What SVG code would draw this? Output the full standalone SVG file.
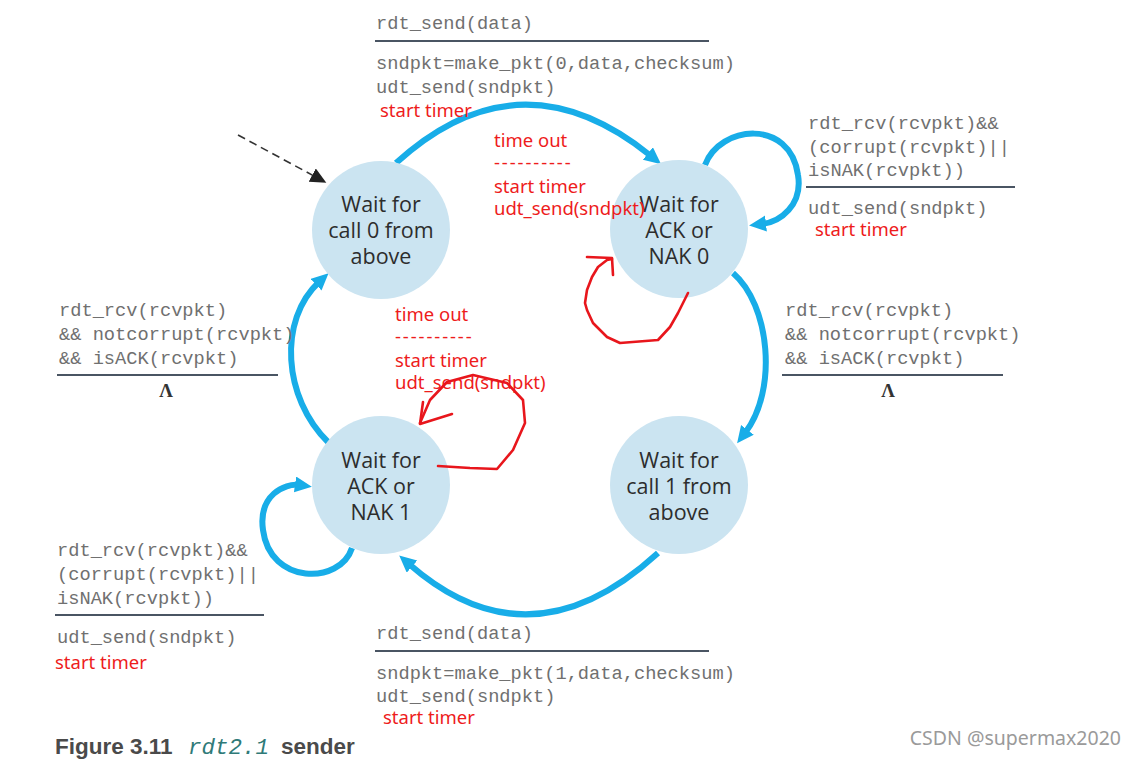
<svg xmlns="http://www.w3.org/2000/svg" width="1136" height="760" viewBox="0 0 1136 760">
<style>
.node{fill:#cbe4f1}
.ntxt{font-family:"Open Sans","Noto Sans",sans-serif;font-size:21.5px;fill:#2d2d2d;text-anchor:middle}
.mono{font-family:"Liberation Mono",monospace;font-size:18.7px;fill:#707070}
.red{font-family:"Noto Sans","Open Sans",sans-serif;font-size:18.5px;fill:#ee1c1c}
.dash{letter-spacing:1.9px}
.lam{font-family:"Liberation Serif",serif;font-size:19px;font-weight:bold;fill:#333;text-anchor:middle}
.rule{stroke:#4a5563;stroke-width:2}
.edge{fill:none;stroke:#18ade8;stroke-width:6}
.hand{fill:none;stroke:#e8161c;stroke-width:2.6;stroke-linejoin:round;stroke-linecap:round}
</style>
<defs>
<marker id="blue" markerUnits="userSpaceOnUse" markerWidth="20" markerHeight="18" refX="4" refY="8" orient="auto" viewBox="0 0 20 18">
<path d="M0,0 L17,8 L0,16 z" fill="#18ade8"/>
</marker>
<marker id="black" markerUnits="userSpaceOnUse" markerWidth="18" markerHeight="16" refX="2" refY="7.5" orient="auto" viewBox="0 0 18 16">
<path d="M0,0 L16,7.5 L0,15 z" fill="#222"/>
</marker>
</defs>
<rect width="1136" height="760" fill="#fff"/>

<g id="connectors">
<path class="edge" d="M396,163 Q520,50 651,156" marker-end="url(#blue)"/>
<path class="edge" d="M705,165 C720,125 790,118 798,175 C803,205 780,222 762,224" marker-end="url(#blue)"/>
<path class="edge" d="M733,273 C770,305 778,390 745,433" marker-end="url(#blue)"/>
<path class="edge" d="M658,553 Q530,670 409,564" marker-end="url(#blue)"/>
<path class="edge" d="M328,442 C283,398 278,320 319,282" marker-end="url(#blue)"/>
<path class="edge" d="M352,548 C340,585 270,585 263,530 C258,495 285,483 299,485" marker-end="url(#blue)"/>
<path d="M238,135 L314,176" fill="none" stroke="#333" stroke-width="1.6" stroke-dasharray="8,5" marker-end="url(#black)"/>
</g>

<g id="node-wait-call0">
<circle class="node" cx="381" cy="230" r="69"/>
<text class="ntxt" x="381" y="212">Wait for</text>
<text class="ntxt" x="381" y="238">call 0 from</text>
<text class="ntxt" x="381" y="264">above</text>
</g>
<g id="node-wait-ack0">
<circle class="node" cx="679" cy="229" r="69"/>
<text class="ntxt" x="679" y="212">Wait for</text>
<text class="ntxt" x="679" y="238">ACK or</text>
<text class="ntxt" x="679" y="264">NAK 0</text>
</g>
<g id="node-wait-ack1">
<circle class="node" cx="381" cy="485" r="69"/>
<text class="ntxt" x="381" y="468">Wait for</text>
<text class="ntxt" x="381" y="494">ACK or</text>
<text class="ntxt" x="381" y="520">NAK 1</text>
</g>
<g id="node-wait-call1">
<circle class="node" cx="679" cy="485" r="69"/>
<text class="ntxt" x="679" y="468">Wait for</text>
<text class="ntxt" x="679" y="494">call 1 from</text>
<text class="ntxt" x="679" y="520">above</text>
</g>

<g id="label-top">
<text class="mono" x="376" y="29">rdt_send(data)</text>
<line class="rule" x1="375" y1="41" x2="709" y2="41"/>
<text class="mono" x="376" y="69">sndpkt=make_pkt(0,data,checksum)</text>
<text class="mono" x="376" y="93">udt_send(sndpkt)</text>
<text class="red" x="380" y="117">start timer</text>
</g>
<g id="label-timeout-top">
<text class="red" x="494" y="147">time out</text>
<text class="red dash" x="494" y="169">----------</text>
<text class="red" x="494" y="193">start timer</text>
<text class="red" x="494" y="215">udt_send(sndpkt)</text>
</g>
<g id="label-ack0-loop">
<text class="mono" x="808" y="129">rdt_rcv(rcvpkt)&amp;&amp;</text>
<text class="mono" x="808" y="153">(corrupt(rcvpkt)||</text>
<text class="mono" x="808" y="176">isNAK(rcvpkt))</text>
<line class="rule" x1="806" y1="187" x2="1015" y2="187"/>
<text class="mono" x="808" y="214">udt_send(sndpkt)</text>
<text class="red" x="815" y="236">start timer</text>
</g>
<g id="label-right">
<text class="mono" x="785" y="316">rdt_rcv(rcvpkt)</text>
<text class="mono" x="785" y="340">&amp;&amp; notcorrupt(rcvpkt)</text>
<text class="mono" x="785" y="364">&amp;&amp; isACK(rcvpkt)</text>
<line class="rule" x1="782" y1="375" x2="1003" y2="375"/>
<text class="lam" x="888" y="397">Λ</text>
</g>
<g id="label-left">
<text class="mono" x="59" y="316">rdt_rcv(rcvpkt)</text>
<text class="mono" x="59" y="340">&amp;&amp; notcorrupt(rcvpkt)</text>
<text class="mono" x="59" y="364">&amp;&amp; isACK(rcvpkt)</text>
<line class="rule" x1="57" y1="375" x2="278" y2="375"/>
<text class="lam" x="166" y="397">Λ</text>
</g>
<g id="label-timeout-mid">
<text class="red" x="395" y="321">time out</text>
<text class="red dash" x="395" y="343">----------</text>
<text class="red" x="395" y="367">start timer</text>
<text class="red" x="395" y="389">udt_send(sndpkt)</text>
</g>
<g id="label-ack1-loop">
<text class="mono" x="57" y="556">rdt_rcv(rcvpkt)&amp;&amp;</text>
<text class="mono" x="57" y="580">(corrupt(rcvpkt)||</text>
<text class="mono" x="57" y="604">isNAK(rcvpkt))</text>
<line class="rule" x1="55" y1="615" x2="264" y2="615"/>
<text class="mono" x="57" y="643">udt_send(sndpkt)</text>
<text class="red" x="55" y="669">start timer</text>
</g>
<g id="label-bottom">
<text class="mono" x="376" y="639">rdt_send(data)</text>
<line class="rule" x1="375" y1="651" x2="709" y2="651"/>
<text class="mono" x="376" y="679">sndpkt=make_pkt(1,data,checksum)</text>
<text class="mono" x="376" y="702">udt_send(sndpkt)</text>
<text class="red" x="383" y="724">start timer</text>
</g>

<g id="hand-loops">
<polyline class="hand" points="688,293 678,313 670,327 658,340 620,343 607,337 593,323 587,310 585,303 587,290 592,277 598,267 607,260 612,259"/>
<polyline class="hand" points="587,257 612,258 613,275"/>
<polyline class="hand" points="438,466 470,468 497,469 513,450 525,423 523,400 507,383 473,375 447,382 430,400 420,423"/>
<polyline class="hand" points="423,402 420,424 452,414"/>
</g>

<g id="caption">
<text x="55" y="754" font-family="Liberation Sans,Arial,sans-serif" font-weight="bold" font-size="22.5" fill="#4a4a4a">Figure 3.11</text>
<text x="188" y="754" font-family="Liberation Mono,monospace" font-style="italic" font-size="22.5" fill="#2f7a78">rdt2.1</text>
<text x="281" y="754" font-family="Liberation Sans,Arial,sans-serif" font-weight="bold" font-size="22.5" fill="#4a4a4a">sender</text>
</g>
<text x="1121" y="745" text-anchor="end" font-family="Noto Sans,sans-serif" font-size="19.5" fill="#9a9a9a">CSDN @supermax2020</text>
</svg>
